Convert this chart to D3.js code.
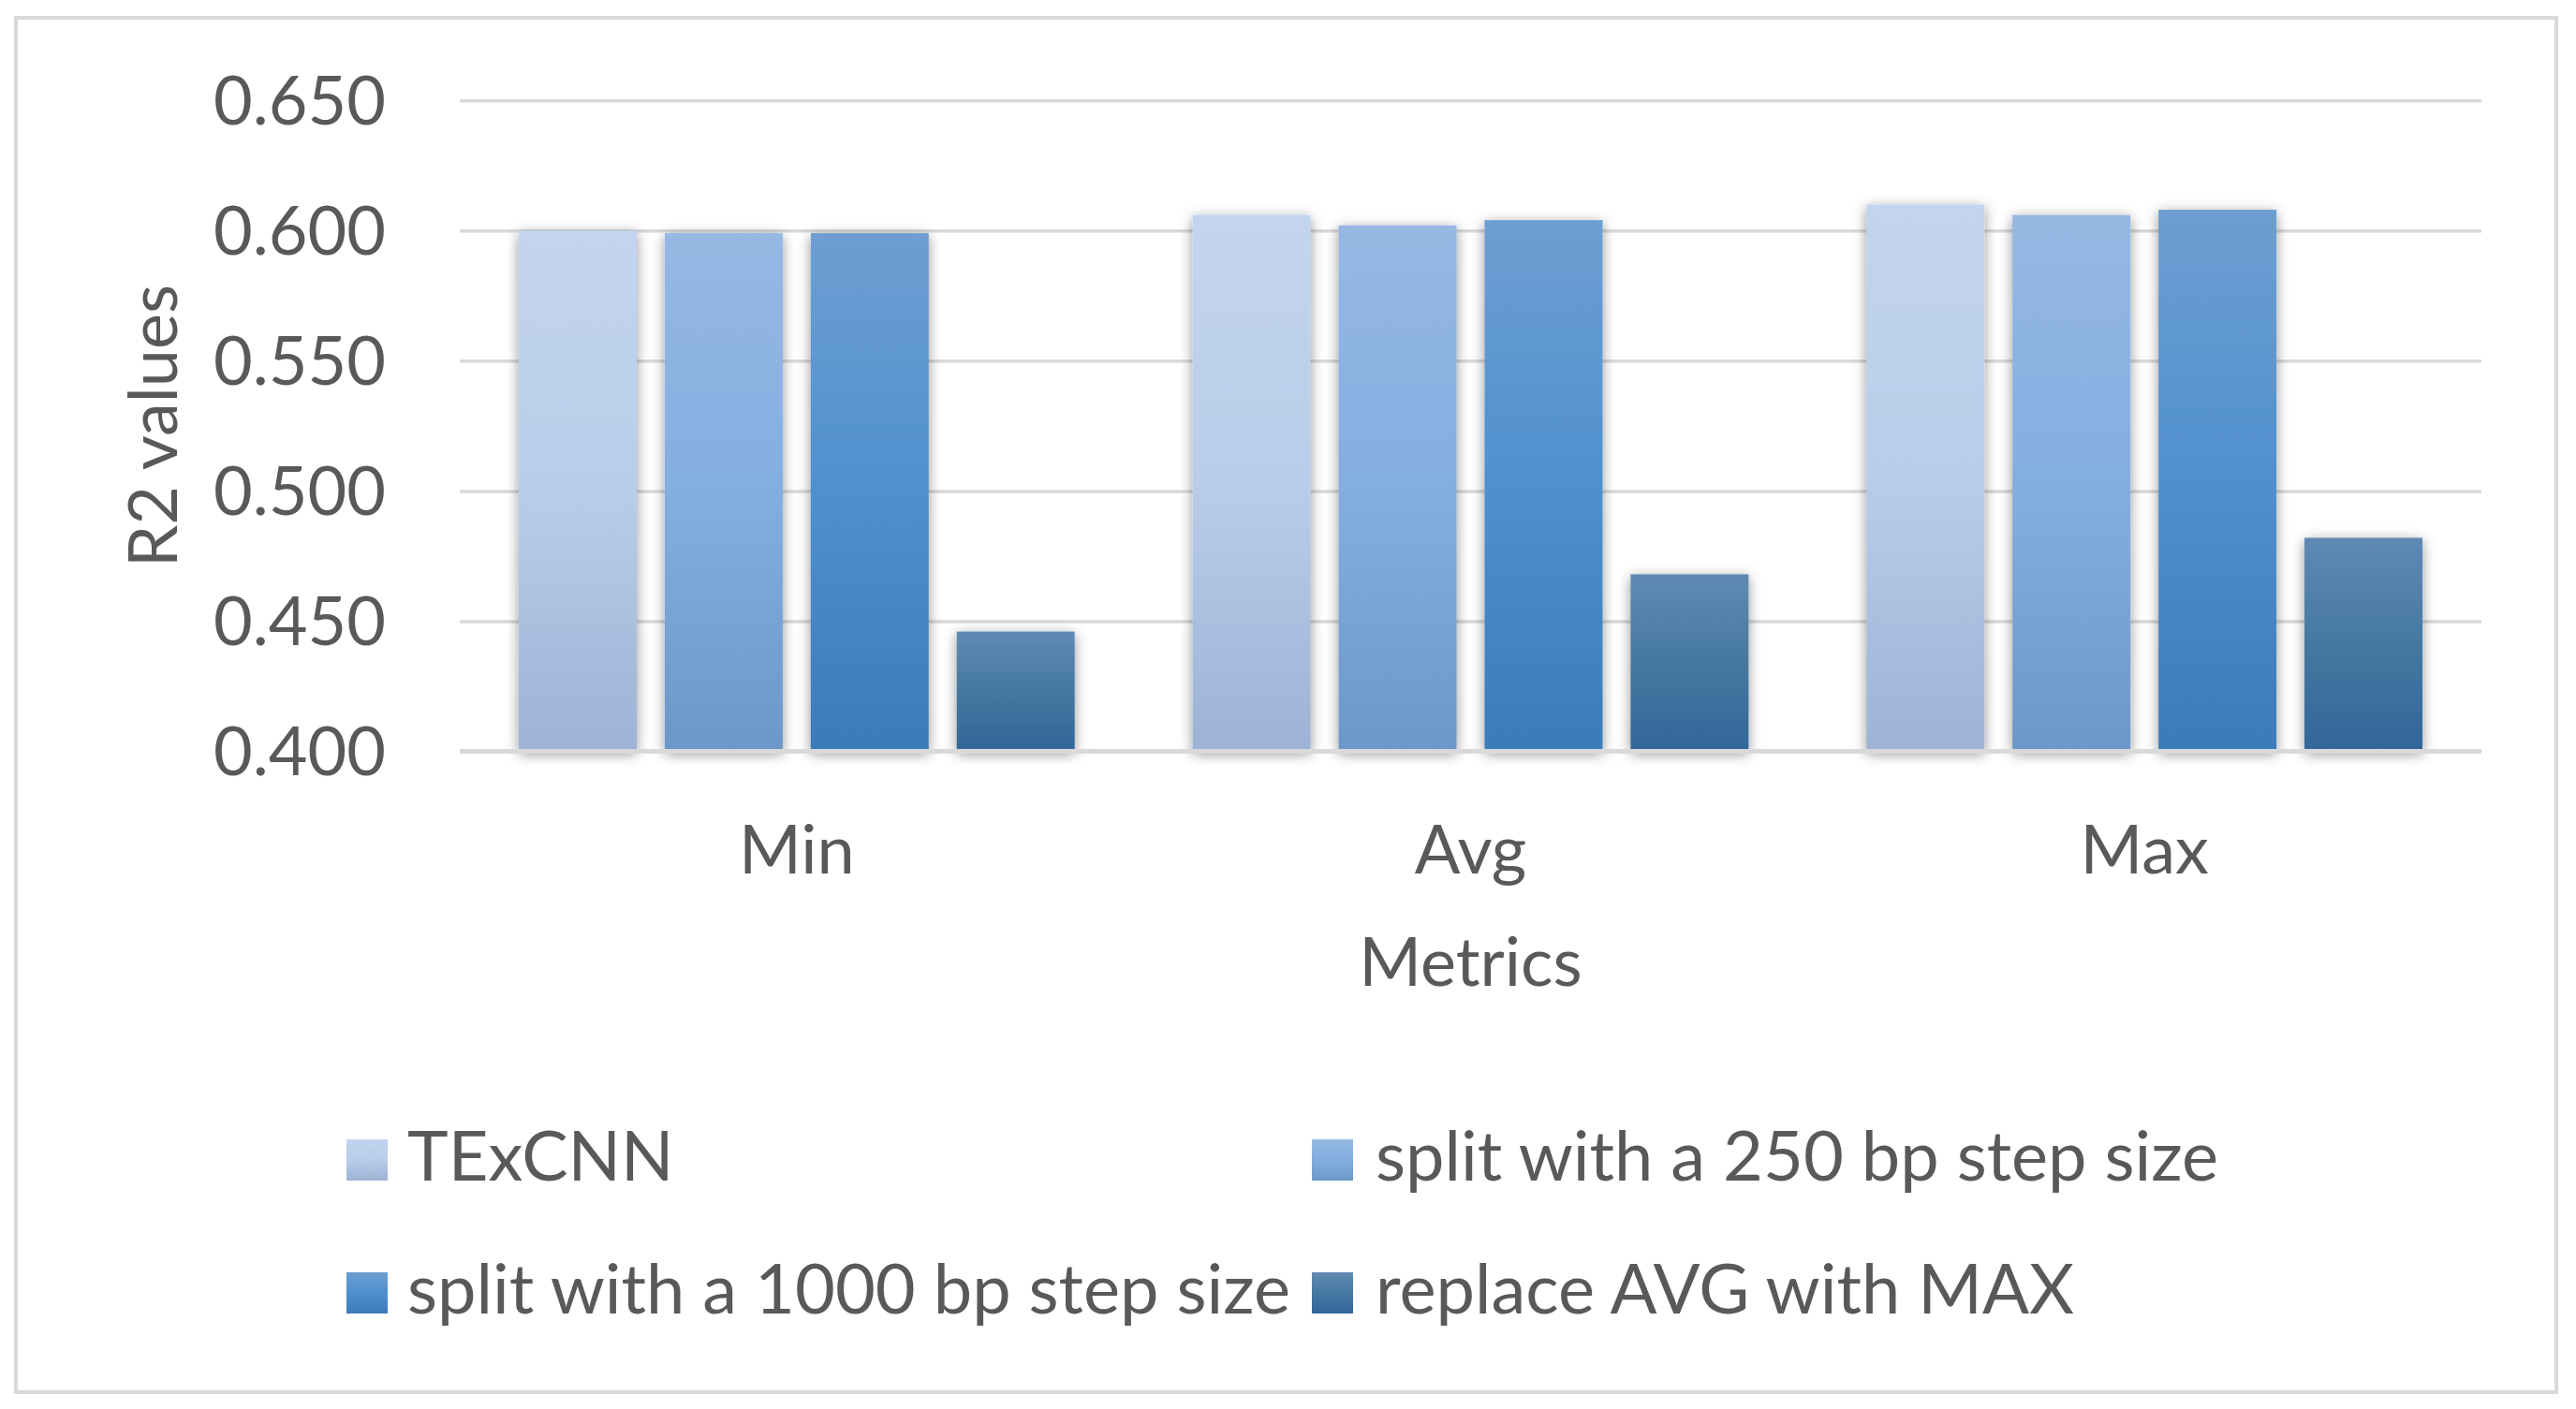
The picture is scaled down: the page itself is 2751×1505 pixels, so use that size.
<!DOCTYPE html>
<html>
<head>
<meta charset="utf-8">
<script src="https://cdn.jsdelivr.net/npm/d3@7"></script>
<style>
  html, body { margin: 0; padding: 0; background: #ffffff; }
  svg { display: block; }
  text { font-family: Lato, "Open Sans", "Noto Sans", sans-serif; fill: #595959; }
</style>
</head>
<body>
<svg id="chart" width="2751" height="1505"></svg>
<script>
// ---- data ----
const categories = ["Min", "Avg", "Max"];
const seriesNames = [
  "TExCNN",
  "split with a 250 bp step size",
  "split with a 1000 bp step size",
  "replace AVG with MAX"
];
const texcnnValues    = [0.600, 0.606, 0.610];
const split250Values  = [0.599, 0.602, 0.606];
const split1000Values = [0.599, 0.604, 0.608];
const replaceMaxValues = [0.446, 0.468, 0.482];
const yTicks = [0.400, 0.450, 0.500, 0.550, 0.600, 0.650];
const yTitle = "R2 values";
const xTitle = "Metrics";

const seriesValues = [texcnnValues, split250Values, split1000Values, replaceMaxValues];

// ---- styles ----
const gradStops = [
  ["#c3d5ee", "#b9cdea", "#9db3d5"],
  ["#96b8e3", "#84aee0", "#6c97c9"],
  ["#6e9ed1", "#4f90cf", "#3d7aba"],
  ["#5f8ab4", "#46789f", "#32669a"]
];
const gridColor = "#d9d9d9";
const fontSize = 72;
const legendFontSize = 74;

const svg = d3.select("#chart");
const W = 2751, H = 1505;
svg.append("rect").attr("width", W).attr("height", H).attr("fill", "#ffffff");

const defs = svg.append("defs");
gradStops.forEach((s, i) => {
  const g = defs.append("linearGradient").attr("id", "g" + i)
    .attr("x1", 0).attr("y1", 0).attr("x2", 0).attr("y2", 1);
  g.append("stop").attr("offset", "0%").attr("stop-color", s[0]);
  g.append("stop").attr("offset", "50%").attr("stop-color", s[1]);
  g.append("stop").attr("offset", "100%").attr("stop-color", s[2]);
});
const f = defs.append("filter").attr("id", "shadow")
  .attr("x", "-30%").attr("y", "-10%").attr("width", "160%").attr("height", "120%");
f.append("feDropShadow").attr("dx", 0).attr("dy", 3).attr("stdDeviation", 7)
  .attr("flood-color", "#000").attr("flood-opacity", 0.42);

// border
svg.append("rect").attr("x", 17).attr("y", 19).attr("width", 2713).attr("height", 1468)
  .attr("fill", "none").attr("stroke", gridColor).attr("stroke-width", 4);

// scales
const plotLeft = 491, plotRight = 2650, plotTop = 107.25, plotBottom = 802.5;
const y = d3.scaleLinear().domain([0.400, 0.650]).range([plotBottom, plotTop]);
const x0 = d3.scaleBand().domain(categories).range([plotLeft, plotRight])
  .paddingInner(0.175).paddingOuter(0.0875);
const x1 = d3.scaleBand().domain(d3.range(seriesNames.length)).range([0, x0.bandwidth()])
  .paddingInner(0.192).paddingOuter(0);

// gridlines (via axis)
const yGrid = d3.axisLeft(y).tickValues(yTicks.slice(1)).tickSize(-(plotRight - plotLeft)).tickFormat("");
const gg = svg.append("g").attr("transform", `translate(${plotLeft},0)`).call(yGrid);
gg.select(".domain").remove();
gg.selectAll(".tick line").attr("stroke", gridColor).attr("stroke-width", 3.5);

// y tick labels
const yAxis = d3.axisLeft(y).tickValues(yTicks).tickSize(0).tickPadding(0).tickFormat(d3.format(".3f"));
const ya = svg.append("g").attr("transform", `translate(412,0)`).call(yAxis);
ya.select(".domain").remove();
ya.selectAll(".tick text")
  .attr("font-family", "Lato, 'Open Sans', sans-serif")
  .attr("font-size", fontSize).attr("fill", "#595959")
  .attr("dy", null).attr("y", 25).attr("x", 0).style("text-anchor", "end");

// bars
const groups = svg.append("g").selectAll("g").data(categories).join("g")
  .attr("transform", d => `translate(${x0(d)},0)`);
groups.selectAll("rect")
  .data((c, ci) => seriesValues.map((vals, si) => ({ si, v: vals[ci] })))
  .join("rect")
  .attr("x", d => x1(d.si))
  .attr("y", d => y(d.v))
  .attr("width", x1.bandwidth())
  .attr("height", d => y(0.400) - y(d.v))
  .attr("fill", d => `url(#g${d.si})`)
  .attr("filter", "url(#shadow)");

// x axis line
svg.append("line").attr("x1", plotLeft).attr("x2", plotRight)
  .attr("y1", y(0.400)).attr("y2", y(0.400))
  .attr("stroke", gridColor).attr("stroke-width", 5);

// category labels
const xAxis = d3.axisBottom(x0).tickSize(0).tickPadding(0);
const xa = svg.append("g").attr("transform", `translate(0,${933})`).call(xAxis);
xa.select(".domain").remove();
xa.selectAll(".tick text")
  .attr("font-family", "Lato, 'Open Sans', sans-serif")
  .attr("font-size", fontSize).attr("fill", "#595959")
  .attr("dy", null).attr("y", 0);

// axis titles
svg.append("text").attr("x", (plotLeft + plotRight) / 2).attr("y", 1053)
  .attr("text-anchor", "middle").attr("font-size", fontSize).text(xTitle);
svg.append("text").attr("transform", `translate(189,${(plotTop + plotBottom) / 2}) rotate(-90)`)
  .attr("text-anchor", "middle").attr("font-size", fontSize).text(yTitle);

// legend
const legendPos = [
  { mx: 370, tx: 435, by: 1261 },
  { mx: 1401, tx: 1469, by: 1261 },
  { mx: 370, tx: 435, by: 1403 },
  { mx: 1401, tx: 1469, by: 1403 }
];
const lg = svg.append("g").selectAll("g").data(seriesNames).join("g");
lg.append("rect")
  .attr("x", (d, i) => legendPos[i].mx)
  .attr("y", (d, i) => legendPos[i].by - 44)
  .attr("width", 44).attr("height", 44)
  .attr("fill", (d, i) => `url(#g${i})`);
lg.append("text")
  .attr("x", (d, i) => legendPos[i].tx)
  .attr("y", (d, i) => legendPos[i].by)
  .attr("font-size", legendFontSize)
  .text(d => d);
</script>
</body>
</html>
